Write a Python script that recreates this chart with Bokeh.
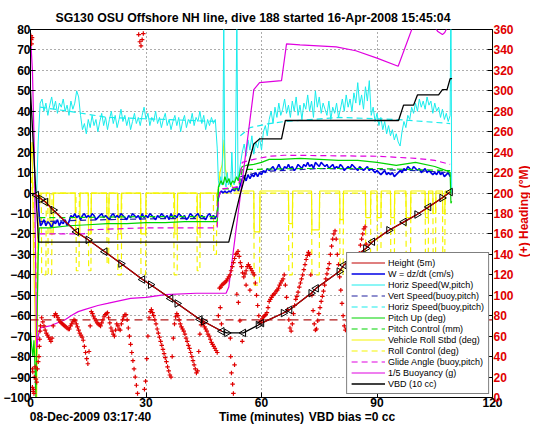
import numpy as np
from bokeh.plotting import figure
from bokeh.layouts import row
from bokeh.models import (Range1d, LinearAxis, FixedTicker, Legend, LegendItem,
                          ColumnDataSource)
from bokeh.core.properties import value
from bokeh.embed import file_html
from bokeh.resources import INLINE

FONT = "Liberation Sans"
nan = float("nan")

title_text = "SG130 OSU Offshore NH line, dive 188 started 16-Apr-2008 15:45:04"
date_text = "08-Dec-2009 03:17:40"
xlabel_text = "Time (minutes)"
bias_text = "VBD bias =0 cc"
ylabel_right_text = "(+) Heading (\u00b0M)"
footer_pos = [15.6, 60, 83.5]
ylabel_right_pos = 182
x_ticks = [0, 30, 60, 90, 120]
y_ticks = list(range(-100, 81, 10))
hd_ticks = list(range(0, 361, 20))

# ---------------- Height (5m): red line (gap at apogee) ----------------
t_depth = [1.0, 1.5, 2.8, 3.9, 5.9, 11.9, 15.0, 19.3, 23.5, 29.1, 31.2, 36.4, 38.1, 44.0, 45.0, 49.7,
           nan, 59.2, 60.0, 65.7, 67.3, 72.9, 74.2, 80.2, 81.4, 87.1, 88.8, 93.1, 97.0, 100.4,
           103.4, 106.9, 109.0]
d_depth = [0, -1.0, -2.9, -4.4, -8.3, -19.0, -22.9, -28.7, -34.5, -42.3, -44.8, -51.6, -54.0, -61.8,
           -62.8, -67.6, nan, -64.5, -63.6, -58.7, -57.1, -49.0, -46.6, -38.4, -35.2, -27.1, -23.8,
           -18.2, -14.1, -10.5, -6.8, -2.4, 0.5]
t_tri = [1.5, 2.8, 3.9, 5.9, 11.9, 15.0, 19.3, 23.5, 29.1, 31.2, 36.4, 38.1, 44.0, 45.0, 49.7, 51.0,
         55.3, 59.2, 60.0, 65.7, 67.3, 72.9, 74.2, 80.2, 81.4, 87.1, 88.8, 93.1, 97.0, 100.4, 103.4,
         106.9, 109.0]
d_tri = [-1.0, -2.9, -4.4, -8.3, -19.0, -22.9, -28.7, -34.5, -42.3, -44.8, -51.6, -54.0, -61.8, -62.8,
         -67.6, -68.4, -68.4, -64.5, -63.6, -58.7, -57.1, -49.0, -46.6, -38.4, -35.2, -27.1, -23.8,
         -18.2, -14.1, -10.5, -6.8, -2.4, 0.5]

# ---------------- Heading (deg M), right axis, '+' markers ----------------
t_hd_early = [0.1, 0.2, 0.3, 0.4, 0.5, 0.6, 0.5, 0.7, 0.8, 0.9, 1.0, 1.2, 1.4, 1.6, 1.8, 2.0, 2.2, 2.3, 2.4, 2.5]
hd_early = [354, 350, 346, 352, 28, 25, 10, 6, 8, 4, 20, 30, 18, 15, 28, 35, 40, 50, 57, 65]
hd_desc_t0, hd_dt = 2.6, 0.3
hd_desc = [70, 78, 74, 70, 66, 63, 61, 59, 57, 55,
           58, 70, 80, 82, 80, 78, 76, 74, 73, 72,
           71, 70, 69, 68, 67, 67, 70, 72, 74, 76,
           75, 72, 69, 66, 63, 61, 59, 56, 50, 44,
           38, 33, 45, 70, 84, 82, 79, 77, 75, 73,
           72, 71, 70, 73, 76, 79, 81, 82, 83, 78,
           73, 68, 65, 62, 60, 66, 72, 70, 67, 66,
           72, 76, 79, 81, 81, 76, 68, 60, 52, 44,
           36, 28, 20, 12, 4, 355, 348, 344, 350, 356,
           8, 16, 38, 60, 78, 84, 86, 83, 80, 76,
           72, 67, 63, 59, 55, 51, 47, 43, 39, 35,
           30, 26, 22, 20, 40, 58, 72, 79, 82, 80,
           76, 72, 69, 67, 65, 62, 58, 55, 51, 48,
           44, 40, 36, 32, 28, 24, 26, 45, 62, 71,
           74, 72, 69, 67, 65, 62, 60, 57, 54, 52,
           50, 48, 46, 44, 80, 107, 108, 110, 111, 112,
           113, 114]
t_hd_apo = [49.3, 49.6, 51.2, 51.5, 51.8, 52.1, 52.4, 52.7, 53.0, 53.3, 53.6, 53.9, 54.2, 54.5, 54.8,
            55.1, 55.4, 55.7, 56.0, 56.3, 56.6, 56.9, 57.2, 57.5, 57.8, 58.1, 58.4, 58.7, 59.0, 59.3,
            51.9, 52.0, 52.2, 52.5, 52.7, 53.0, 53.6, 54.0, 54.4, 55.0, 56.0, 57.0]
hd_apo = [88, 72, 116, 118, 120, 124, 128, 132, 136, 140, 141, 143, 138, 132, 128,
          122, 118, 121, 124, 128, 130, 128, 126, 124, 122, 120, 112, 100, 90, 80,
          58, 40, 24, 13, 4, 32, 101, 93, 75, 55, 110, 105]
hd_asc_t0 = 59.6
hd_asc = [74, 75, 77, 79, 80, 81, 83, 88, 94, 96,
          98, 100, 101, 102, 104, 105, 107, 110, 112, 114,
          116, 120, 110, 98, 86, 76, 68, 65, 72, 82,
          90, 96, 99, 103, 108, 112, 116, 120, 125, 130,
          135, 139, 142, 140, 120, 100, 85, 72, 66, 67,
          75, 82, 88, 94, 99, 104, 110, 116, 121, 126,
          131, 140, 148, 155, 160, 163, 155, 140, 130, 118,
          105, 92, 80, 70, 66, 68, 75, 83, 89, 93,
          96, 100, 108, 116, 125, 133, 141, 149, 155, 160,
          165, 167, 150, 130, 110, 90]
heading_target = 76

# ---------------- W = dz/dt (cm/s) ----------------
t_w_pre = [2.0, 2.3, 2.6]
w_pre = [-3, -12, -16]
w_desc_t0, w_dt = 3.0, 0.5
w_desc = [-15, -13, -16, -14, -15, -17, -14, -15, -13, -16, -14, -15, -13, -16, -14,
          -11, -12, -10, -12, -11, -13, -11, -10, -12, -11, -12, -10, -11, -13, -12, -11, -10,
          -12, -11, -12, -13, -11, -10, -12, -11, -12, -10, -11, -12, -13, -11, -12, -10, -11,
          -12, -11, -13, -10, -12, -11, -12, -10, -11, -12, -13, -11, -12, -10, -11, -12, -11,
          -13, -10, -12, -11, -12, -10, -11, -12, -11, -13, -12, -10, -11, -12, -11, -10, -12,
          -11, -12, -13, -11, -10, -12, -11, -12, -11]
t_w_apo = [48.8, 49.2, 49.6, 50.0, 50.5, 51.0, 51.5, 52.0, 52.5, 53.0, 53.5]
w_apo = [-2, 0, 1, 0, 1, 0, 1, 0.5, 2, 1, 3]
w_asc_t0 = 54.0
w_asc = [1, 4, 7, 8, 6, 9, 7, 9, 8, 10, 8, 10,
         9, 11, 10, 12, 11, 12, 13, 11, 12, 14, 12, 11, 13, 12, 14, 12, 13, 11, 12, 14,
         13, 12, 14, 13, 15, 13, 14, 12, 15, 14, 13, 15, 14, 13, 14, 12, 13, 14, 12, 13,
         12, 14, 13, 11, 12, 13, 12, 14, 13, 12, 11, 13, 12, 11, 12, 13, 11, 12, 11, 10,
         11, 10, 9, 10, 11, 9, 10, 9, 10, 8, 9, 10, 11, 10, 12, 11, 13, 12, 11, 13,
         12, 11, 12, 10, 11, 12, 10, 11, 10, 9, 10, 9, 11, 9, 10, 8, 9, 10, 8]

# ---------------- Horiz Speed (W,pitch) ----------------
t_hs_pre = [1.6, 2.0, 2.5]
hs_pre = [0, 25, 44]
hs_desc_t0, hs_dt = 3.0, 0.5
hs_desc = [46, 40, 44, 38, 43, 47, 41, 45, 39, 44, 42, 46, 40, 43, 38, 45, 41, 44, 50, 47,
           38, 31, 34, 29, 36, 32, 38, 33, 36, 30, 35, 39, 33, 37, 31, 36, 40, 34, 38, 32,
           36, 41, 35, 38, 33, 37, 31, 35, 39, 34, 37, 33, 38, 42, 36, 39, 33, 37, 35, 40,
           34, 37, 32, 36, 39, 33, 36, 31, 35, 38, 33, 37, 30, 35, 38, 32, 36, 34, 39, 33,
           37, 35, 40, 34, 38, 31, 36, 33, 37, 34, 36]
t_hs_apo = [48.5, 48.8, 49.1, 49.4, 49.7, 50.0, 50.2, 50.5, 50.8, 51.1, 51.4, 51.7, 52.0, 52.3,
            52.6, 52.9, 53.2, 53.6, 53.9, 54.2]
hs_apo = [22, 6, 3, 8, 4, 30, 85, 5, 3, 10, 4, 7, 3, 20, 5, 4, 8, 85, 6, 10]
hs_asc_t0 = 54.5
hs_asc = [14, 20, 24, 18, 26, 21, 28, 19, 25, 22, 27, 21, 30, 33, 28, 36, 40, 34, 42, 37,
          44, 38, 41, 46, 39, 43, 37, 45, 40, 47, 38, 43, 36, 44, 41, 48, 40, 45, 37, 50,
          42, 47, 39, 44, 41, 38, 45, 36, 42, 39, 44, 37, 41, 46, 40, 48, 42, 46, 40, 49,
          44, 54, 43, 48, 41, 52, 45, 55, 38, 42, 35, 39, 33, 37, 31, 35, 29, 33, 28, 31,
          26, 29, 25, 23, 30, 35, 32, 38, 36, 42, 39, 44, 40, 46, 42, 45, 41, 47, 43, 45,
          39, 44, 40, 42, 37, 41, 36, 39, 35, 38]
t_hs_end = [109.2, 109.4]
hs_end = [100, 0]

# ---------------- other series ----------------
t_vsb = [2.5, 10.0, 20.0, 35.0, 48.5, nan, 54.5, 60.0, 75.0, 90.0, 100.0, 109.0]
vsb = [-14, -13.5, -13, -12.5, -12.5, nan, 8, 10.5, 12, 11.5, 11, 10]
t_hsb = [2.5, 10.0, 20.0, 35.0, 48.5, nan, 54.5, 57.0, 62.0, 66.0, 80.0, 95.0, 109.0]
hsb = [42, 40, 37, 36, 35, nan, 28, 32, 34, 35, 37, 36, 34]

t_pitch = [0.0, 0.3, 0.6, 0.9, 1.1, 1.4, 1.7, 2.0, 2.3,
           5.0, 10.0, 15.0, 20.0, 25.0, 30.0, 35.0, 40.0, 45.0, 48.5,
           48.8, 49.5, 50.0, 50.5, 51.0, 51.5, 52.0, 52.5, 53.0, 53.5, 54.0, 54.5,
           55.0, 56.0, 58.0, 60.0, 62.0, 65.0, 70.0, 75.0, 80.0, 85.0, 90.0, 95.0, 100.0, 105.0, 108.0, 109.0,
           109.2, 109.4]
pitch = [-68, -75, -80, -72, -82, -100, -60, -30, -17,
         -17, -16, -15.5, -15, -15, -14.5, -14.5, -14, -14, -14,
         3, 6, 4, 8, 5, 7, 4, 6, 5, 8, 6, 11,
         13, 13.5, 14, 15, 16.5, 16.5, 17, 16.5, 16, 16, 15, 13.5, 15, 13, 11, 10,
         -5, -4]
t_pc = [2.3, 10.0, 30.0, 48.5, 48.8, 54.0, 55.0, 70.0, 90.0, 109.0]
pc = [-12, -12, -11.5, -11.5, 2, 2, 11.5, 12, 12, 11]

t_roll = [0.0, 0.4, 0.8, 1.2, 1.6, 2.0, 2.4,
          5.0, 5.1, 5.9, 6.0,
          11.6, 11.7, 12.8, 12.9,
          15.0, 15.1, 15.7, 15.8,
          19.8, 19.9, 20.3, 20.4,
          22.7, 22.8, 23.5, 23.6,
          28.6, 28.7, 29.9, 30.0,
          37.4, 37.5, 38.1, 38.2,
          43.3, 43.4, 44.0, 44.1,
          48.3, 48.6, 49.2, 49.8, 50.3, 50.6, 51.0, 51.8, 52.5, 53.3, 54.0,
          58.0, 58.1, 59.5, 59.6,
          67.0, 67.1, 68.0, 68.1,
          73.0, 73.1, 75.0, 75.1,
          80.3, 80.4, 81.2, 81.3,
          87.0, 87.1, 88.3, 88.4,
          90.0, 90.1, 91.0, 91.1,
          93.5, 93.6, 94.5, 94.6,
          97.5, 97.6, 98.7, 98.8,
          102.5, 102.6, 103.3, 103.4,
          104.5, 104.6, 105.2, 105.3,
          107.0, 107.1, 107.6, 107.7,
          109.3]
roll = [15, 25, -30, -60, -100, -10, 0,
        0, -20, -20, 0,
        0, -20, -20, 0,
        0, -20, -20, 0,
        0, -18, -18, 0,
        0, -20, -20, 0,
        0, -20, -20, 0,
        0, -20, -20, 0,
        0, -20, -20, 0,
        0, -5, 10, 14, 26, 12, 8, 5, 3, 1, 1,
        1, -19, -19, 1,
        1, -15, -15, 1,
        1, -18, -18, 1,
        1, -13, -13, 1,
        1, -12, -12, 1,
        1, -12, -12, 1,
        1, -12, -12, 1,
        1, -12, -12, 1,
        1, -12, -12, 1,
        1, -10, -10, 1,
        1, -10, -10, 1,
        1]
t_rollc = [0.0, 0.5, 1.0, 1.5, 2.0,
           2.8, 2.9, 4.0, 4.1,
           4.5, 4.6, 5.5, 5.6,
           11.8, 11.9, 12.6, 12.7,
           15.0, 15.1, 15.7, 15.8,
           19.8, 19.9, 20.3, 20.4,
           22.6, 22.7, 23.6, 23.7,
           28.6, 28.7, 29.9, 30.0,
           37.2, 37.3, 38.1, 38.2,
           43.2, 43.3, 44.0, 44.1,
           47.5, 47.6, 48.3, 48.4,
           54.0,
           58.0, 58.1, 59.5, 59.6,
           67.0, 67.1, 68.0, 68.1,
           73.0, 73.1, 75.0, 75.1,
           80.3, 80.4, 81.2, 81.3,
           87.0, 87.1, 88.3, 88.4,
           90.0, 90.1, 91.0, 91.1,
           93.5, 93.6, 94.5, 94.6,
           97.5, 97.6, 98.7, 98.8,
           102.5, 102.6, 103.3, 103.4,
           104.5, 104.6, 105.2, 105.3,
           107.0, 107.1, 107.6, 107.7,
           109.3]
rollc = [0, 10, -20, -50, -10,
         0, -40, -40, 0,
         0, -40, -40, 0,
         0, -38, -38, 0,
         0, -38, -38, 0,
         0, -35, -35, 0,
         0, -40, -40, 0,
         0, -40, -40, 0,
         0, -40, -40, 0,
         0, -38, -38, 0,
         0, -30, -30, 0,
         0,
         0, -45, -45, 0,
         0, -40, -40, 0,
         0, -40, -40, 0,
         0, -40, -40, 0,
         0, -40, -40, 0,
         0, -40, -40, 0,
         0, -40, -40, 0,
         0, -40, -40, 0,
         0, -40, -40, 0,
         0, -35, -35, 0,
         0, -35, -35, 0,
         0]

t_glide = [2.3, 14.0, 15.0, 30.0, 48.5, 48.8, 49.5, 54.0, 55.0, 58.0, 62.0, 66.0, 90.0, 100.0, 105.0, 109.0]
glide = [-20, -20, -18, -17, -17, -3, 2, 3, 15, 16.5, 18, 18.5, 18, 17, 16, 14]

t_buoy = [0.0, 0.5, 1.0, 1.3, 1.6, 2.0, 2.5, 5.0, 9.0, 10.5, 12.4, 14.0, 17.5, 20.0, 26.0, 30.0,
          35.0, 43.0, 50.8, 51.5, 58.0, 59.5, 65.2, 66.5, 70.0, 79.4, 84.5, 90.0, 95.5, 100.0,
          104.0, 105.8, 107.0, 107.6, 108.5, 109.3]
buoy = [77, 60, 20, -30, -76, -70, -66, -65, -62, -60, -58, -57, -55, -54, -51.5, -51,
        -49.7, -49, -49, -46, 50.6, 54, 55, 73, 72.5, 71.5, 69.6, 66, 62, 85,
        84, 79, 77.5, 78.5, 82, 90]

t_vbd = [0.0, 1.0, 2.1, 51.5, 54.4, 58.0, 59.5, 65.2, 66.2, 95.6, 96.9, 99.5, 100.5, 106.0,
         107.0, 108.2, 109.0, 109.5]
vbd = [50, 14, -24, -24, -1, 24, 26.5, 26.5, 35.5, 35.5, 43, 43, 48, 48, 50.6, 50.6, 56, 56]


def uniform(t0, dt, vals):
    return list(t0 + dt * np.arange(len(vals))), list(vals)


t_a, v_a = uniform(hd_desc_t0, hd_dt, hd_desc)
t_b, v_b = uniform(hd_asc_t0, hd_dt, hd_asc)
t_hd = t_hd_early + t_a + t_hd_apo + t_b
hd = hd_early + v_a + hd_apo + v_b

t_a, v_a = uniform(w_desc_t0, w_dt, w_desc)
t_b, v_b = uniform(w_asc_t0, w_dt, w_asc)
t_w = t_w_pre + t_a + t_w_apo + t_b
w = w_pre + v_a + w_apo + v_b

t_a, v_a = uniform(hs_desc_t0, hs_dt, hs_desc)
t_b, v_b = uniform(hs_asc_t0, hs_dt, hs_asc)
t_hs = t_hs_pre + t_a + t_hs_apo + t_b + t_hs_end
hs = hs_pre + v_a + hs_apo + v_b + hs_end

# ---------------- main figure ----------------
H = 426
p = figure(width=516, height=H, x_range=Range1d(0, 120), y_range=Range1d(-100, 80),
           output_backend="svg", toolbar_location=None, title=title_text,
           min_border_left=24, min_border_right=24, min_border_top=29, min_border_bottom=28)
p.background_fill_color = "white"
p.border_fill_color = "white"
p.outline_line_color = "black"
p.outline_line_alpha = 1.0
p.extra_y_ranges = {"hd": Range1d(0, 360)}

p.title.align = "left"
p.title.offset = 25
p.title.standoff = 10
p.title.text_font = FONT
p.title.text_font_style = "bold"
p.title.text_font_size = "12.3px"
p.title.text_color = "black"

RED = "#e00000"
DRED = "#c00000"
BLUE = "#0000e6"
CYAN = "#19ecec"
GREEN = "#00d400"
YEL = "#f5f500"
MAG = "#e000e0"

r_roll = p.line(t_roll, roll, color=YEL, line_width=1.2)
r_rollc = p.line(t_rollc, rollc, color=YEL, line_width=1.2, line_dash="6 4")
r_hs = p.line(t_hs, hs, color=CYAN, line_width=1)
r_hsb = p.line(t_hsb, hsb, color=CYAN, line_width=1.2, line_dash="6 4")
r_vsb = p.line(t_vsb, vsb, color="#2020a0", line_width=1.2, line_dash="6 4")
r_w = p.line(t_w, w, color=BLUE, line_width=1.6)
r_pitch = p.line(t_pitch, pitch, color=GREEN, line_width=1.2)
r_pc = p.line(t_pc, pc, color=GREEN, line_width=1.2, line_dash="6 4")
r_glide = p.line(t_glide, glide, color=MAG, line_width=1.2, line_dash="6 4")
r_buoy = p.line(t_buoy, buoy, color=MAG, line_width=1.2)
r_vbd = p.line(t_vbd, vbd, color="black", line_width=1.3)

p.line([0, 120], [heading_target, heading_target], y_range_name="hd",
       color="#b01818", line_width=1.2, line_dash="8 5")
p.scatter(t_hd, hd, y_range_name="hd", marker="cross", size=4.5, line_color=RED, line_width=1.2)

p.line(t_tri, d_tri, color="black", line_width=1.2)
r_depth = p.line(t_depth, d_depth, color=DRED, line_width=1.2)
ang = [np.pi / 2 if i % 2 == 0 else -np.pi / 2 for i in range(len(t_tri))]
src_tri = ColumnDataSource(dict(t=t_tri, d=d_tri, ang=ang))
p.scatter(x="t", y="d", angle="ang", source=src_tri, marker="triangle", size=7.5,
          line_color="black", line_width=1, fill_alpha=0)

# ---------------- axes ----------------
for ax in (p.xaxis[0], p.yaxis[0]):
    ax.major_label_text_font = FONT
    ax.major_label_text_font_style = "bold"
    ax.major_label_text_font_size = "12px"
    ax.major_label_text_color = "black"
    ax.major_tick_in = 5
    ax.major_tick_out = 0
    ax.minor_tick_in = 0
    ax.minor_tick_out = 0
    ax.axis_line_color = "black"
    ax.major_tick_line_color = "black"
p.xaxis.ticker = FixedTicker(ticks=x_ticks)
p.yaxis.ticker = FixedTicker(ticks=y_ticks)
p.yaxis.major_label_standoff = 0
p.xaxis.major_label_standoff = 0

ax_r = LinearAxis(y_range_name="hd", ticker=FixedTicker(ticks=hd_ticks))
ax_r.major_label_text_font = FONT
ax_r.major_label_text_font_style = "bold"
ax_r.major_label_text_font_size = "12px"
ax_r.major_label_text_color = RED
ax_r.major_tick_in = 5
ax_r.major_tick_out = 0
ax_r.minor_tick_in = 0
ax_r.minor_tick_out = 0
ax_r.major_label_standoff = 1
ax_r.axis_line_color = "black"
p.add_layout(ax_r, "right")

# bottom text row: date, x-axis title and VBD bias, carried by an extra bottom axis
ax_f = LinearAxis(ticker=FixedTicker(ticks=footer_pos),
                  major_label_overrides={footer_pos[0]: date_text,
                                         footer_pos[1]: xlabel_text,
                                         footer_pos[2]: bias_text})
ax_f.axis_line_color = None
ax_f.major_tick_line_color = None
ax_f.minor_tick_line_color = None
ax_f.major_tick_in = 0
ax_f.major_tick_out = 0
ax_f.major_label_standoff = 0
ax_f.major_label_text_font = FONT
ax_f.major_label_text_font_style = "bold"
ax_f.major_label_text_font_size = "12px"
ax_f.major_label_text_color = "black"
p.add_layout(ax_f, "below")

for g in (p.xgrid[0], p.ygrid[0]):
    g.grid_line_color = "#333333"
    g.grid_line_dash = "1 3"
    g.grid_line_alpha = 0.8

# ---------------- legend ----------------
items = [
    LegendItem(label="Height (5m)", renderers=[r_depth]),
    LegendItem(label="W = dz/dt (cm/s)", renderers=[r_w]),
    LegendItem(label="Horiz Speed(W,pitch)", renderers=[r_hs]),
    LegendItem(label="Vert Speed(buoy,pitch)", renderers=[r_vsb]),
    LegendItem(label="Horiz Speed(buoy,pitch)", renderers=[r_hsb]),
    LegendItem(label="Pitch Up (deg)", renderers=[r_pitch]),
    LegendItem(label="Pitch Control (mm)", renderers=[r_pc]),
    LegendItem(label="Vehicle Roll Stbd (deg)", renderers=[r_roll]),
    LegendItem(label="Roll Control (deg)", renderers=[r_rollc]),
    LegendItem(label="Glide Angle (buoy,pitch)", renderers=[r_glide]),
    LegendItem(label="1/5 Buoyancy (g)", renderers=[r_buoy]),
    LegendItem(label="VBD (10 cc)", renderers=[r_vbd]),
]
legend = Legend(items=items, location="bottom_right", margin=3, padding=4, spacing=0,
                label_height=11, glyph_height=11, glyph_width=34, label_standoff=3,
                label_text_font=FONT, label_text_font_size="9px", label_text_color="black",
                border_line_color="black", border_line_width=1,
                background_fill_color="white", background_fill_alpha=1.0)
p.add_layout(legend)

# ---------------- narrow strip carrying the right-axis title ----------------
q = figure(width=14, height=H, x_range=Range1d(0, 1), y_range=Range1d(0, 360),
           output_backend="svg", toolbar_location=None, title=None,
           x_axis_type=None, y_axis_type=None,
           min_border_left=0, min_border_right=0, min_border_top=29, min_border_bottom=28)
q.outline_line_color = None
q.background_fill_color = "white"
q.border_fill_color = "white"
q.text(x=[0.5], y=[ylabel_right_pos], text=[ylabel_right_text], angle=np.pi / 2,
       text_align="center", text_baseline="middle", text_font=value(FONT),
       text_font_style="bold", text_font_size="12px", text_color=RED)

layout = row(p, q, spacing=0)
open("out.html", "w").write(file_html(layout, INLINE))
